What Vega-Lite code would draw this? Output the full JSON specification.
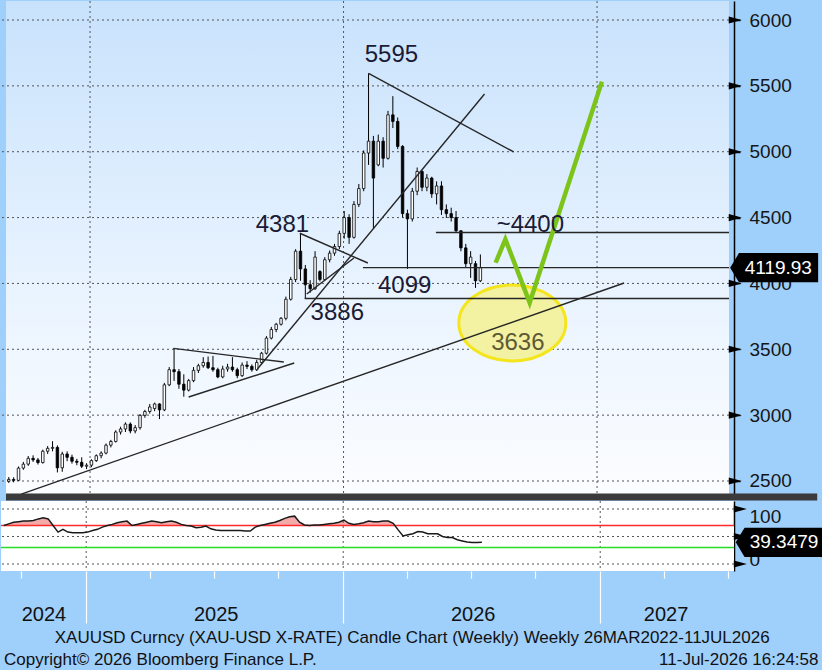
{
  "$schema": "https://vega.github.io/schema/vega-lite/v6.json",
  "background": "#9fcffb",
  "padding": 0,
  "spacing": 4,
  "bounds": "flush",
  "config": {"view": {"stroke": null}, "font": "Liberation Sans"},
  "datasets": {
    "ohlc": [
      {"d": "2024-09-06", "o": 2498, "h": 2530, "l": 2485, "c": 2512, "r": 70},
      {"d": "2024-09-13", "o": 2512, "h": 2528, "l": 2490, "c": 2505, "r": 73},
      {"d": "2024-09-20", "o": 2505, "h": 2610, "l": 2500, "c": 2598, "r": 76},
      {"d": "2024-09-27", "o": 2598, "h": 2645, "l": 2585, "c": 2628, "r": 77},
      {"d": "2024-10-04", "o": 2628, "h": 2690, "l": 2615, "c": 2672, "r": 78},
      {"d": "2024-10-11", "o": 2672, "h": 2695, "l": 2645, "c": 2660, "r": 78},
      {"d": "2024-10-18", "o": 2660, "h": 2675, "l": 2625, "c": 2640, "r": 79},
      {"d": "2024-10-25", "o": 2640, "h": 2738, "l": 2632, "c": 2726, "r": 82},
      {"d": "2024-11-01", "o": 2726, "h": 2765, "l": 2705, "c": 2748, "r": 84},
      {"d": "2024-11-08", "o": 2748, "h": 2802, "l": 2725, "c": 2755, "r": 82},
      {"d": "2024-11-15", "o": 2755, "h": 2770, "l": 2565, "c": 2600, "r": 70},
      {"d": "2024-11-22", "o": 2600, "h": 2722, "l": 2570, "c": 2705, "r": 58},
      {"d": "2024-11-29", "o": 2705, "h": 2725, "l": 2650, "c": 2680, "r": 63},
      {"d": "2024-12-06", "o": 2680, "h": 2700, "l": 2632, "c": 2650, "r": 58},
      {"d": "2024-12-13", "o": 2650, "h": 2668, "l": 2620, "c": 2642, "r": 57},
      {"d": "2024-12-20", "o": 2642, "h": 2680, "l": 2598, "c": 2612, "r": 57},
      {"d": "2024-12-27", "o": 2612, "h": 2635, "l": 2590, "c": 2620, "r": 57},
      {"d": "2025-01-03", "o": 2620, "h": 2665, "l": 2605, "c": 2655, "r": 58},
      {"d": "2025-01-10", "o": 2655, "h": 2702, "l": 2645, "c": 2692, "r": 61},
      {"d": "2025-01-17", "o": 2692, "h": 2725, "l": 2672, "c": 2712, "r": 63},
      {"d": "2025-01-24", "o": 2712, "h": 2785, "l": 2702, "c": 2772, "r": 67},
      {"d": "2025-01-31", "o": 2772, "h": 2812, "l": 2755, "c": 2800, "r": 70},
      {"d": "2025-02-07", "o": 2800, "h": 2885, "l": 2792, "c": 2872, "r": 72},
      {"d": "2025-02-14", "o": 2872, "h": 2912, "l": 2852, "c": 2895, "r": 75},
      {"d": "2025-02-21", "o": 2895, "h": 2945, "l": 2872, "c": 2932, "r": 77},
      {"d": "2025-02-28", "o": 2932, "h": 2945, "l": 2862, "c": 2880, "r": 78},
      {"d": "2025-03-07", "o": 2880, "h": 2925, "l": 2862, "c": 2905, "r": 70},
      {"d": "2025-03-14", "o": 2905, "h": 3008, "l": 2890, "c": 2998, "r": 72},
      {"d": "2025-03-21", "o": 2998, "h": 3040, "l": 2980, "c": 3028, "r": 74},
      {"d": "2025-03-28", "o": 3028, "h": 3085, "l": 3012, "c": 3062, "r": 76},
      {"d": "2025-04-04", "o": 3050, "h": 3095, "l": 3030, "c": 3085, "r": 78},
      {"d": "2025-04-11", "o": 3085, "h": 3090, "l": 2970, "c": 3040, "r": 77},
      {"d": "2025-04-18", "o": 3040, "h": 3245, "l": 3030, "c": 3230, "r": 75},
      {"d": "2025-04-25", "o": 3230, "h": 3365, "l": 3220, "c": 3345, "r": 77},
      {"d": "2025-05-02", "o": 3345, "h": 3507, "l": 3260, "c": 3330, "r": 78},
      {"d": "2025-05-09", "o": 3330, "h": 3350, "l": 3200, "c": 3235, "r": 76},
      {"d": "2025-05-16", "o": 3235, "h": 3310, "l": 3140, "c": 3190, "r": 72},
      {"d": "2025-05-23", "o": 3190, "h": 3275, "l": 3180, "c": 3262, "r": 70},
      {"d": "2025-05-30", "o": 3262, "h": 3365, "l": 3250, "c": 3340, "r": 69},
      {"d": "2025-06-06", "o": 3340, "h": 3390, "l": 3320, "c": 3375, "r": 66},
      {"d": "2025-06-13", "o": 3375, "h": 3440, "l": 3360, "c": 3400, "r": 67},
      {"d": "2025-06-20", "o": 3400, "h": 3445, "l": 3350, "c": 3360, "r": 69},
      {"d": "2025-06-27", "o": 3360, "h": 3450, "l": 3330, "c": 3345, "r": 64},
      {"d": "2025-07-04", "o": 3345, "h": 3360, "l": 3280, "c": 3290, "r": 62},
      {"d": "2025-07-11", "o": 3290, "h": 3375, "l": 3280, "c": 3350, "r": 61},
      {"d": "2025-07-18", "o": 3350, "h": 3390, "l": 3330, "c": 3365, "r": 61},
      {"d": "2025-07-25", "o": 3365, "h": 3440, "l": 3330, "c": 3345, "r": 61},
      {"d": "2025-08-01", "o": 3345, "h": 3360, "l": 3280, "c": 3300, "r": 61},
      {"d": "2025-08-08", "o": 3300, "h": 3400, "l": 3290, "c": 3380, "r": 61},
      {"d": "2025-08-15", "o": 3380, "h": 3410, "l": 3350, "c": 3370, "r": 60},
      {"d": "2025-08-22", "o": 3370, "h": 3385, "l": 3330, "c": 3345, "r": 60},
      {"d": "2025-08-29", "o": 3345, "h": 3420, "l": 3335, "c": 3400, "r": 67},
      {"d": "2025-09-05", "o": 3400, "h": 3480, "l": 3390, "c": 3470, "r": 70},
      {"d": "2025-09-12", "o": 3470, "h": 3600, "l": 3460, "c": 3585, "r": 72},
      {"d": "2025-09-19", "o": 3585, "h": 3670, "l": 3575, "c": 3650, "r": 74},
      {"d": "2025-09-26", "o": 3650, "h": 3700, "l": 3630, "c": 3690, "r": 76},
      {"d": "2025-10-03", "o": 3690, "h": 3745, "l": 3680, "c": 3735, "r": 79},
      {"d": "2025-10-10", "o": 3735, "h": 3900, "l": 3720, "c": 3880, "r": 83},
      {"d": "2025-10-17", "o": 3880, "h": 4050, "l": 3870, "c": 4030, "r": 86},
      {"d": "2025-10-24", "o": 4030, "h": 4260, "l": 4010, "c": 4245, "r": 87},
      {"d": "2025-10-31", "o": 4245, "h": 4381, "l": 4020, "c": 4110, "r": 76},
      {"d": "2025-11-07", "o": 4110, "h": 4140, "l": 3886, "c": 3990, "r": 71},
      {"d": "2025-11-14", "o": 3990, "h": 4025, "l": 3930, "c": 3960, "r": 70},
      {"d": "2025-11-21", "o": 3960, "h": 4245, "l": 3950, "c": 4200, "r": 71},
      {"d": "2025-11-28", "o": 4090, "h": 4100, "l": 4015, "c": 4030, "r": 71},
      {"d": "2025-12-05", "o": 4030, "h": 4200, "l": 4020, "c": 4180, "r": 72},
      {"d": "2025-12-12", "o": 4180, "h": 4250, "l": 4160, "c": 4230, "r": 73},
      {"d": "2025-12-19", "o": 4230, "h": 4300, "l": 4210, "c": 4280, "r": 74},
      {"d": "2025-12-26", "o": 4280, "h": 4400, "l": 4260, "c": 4380, "r": 76},
      {"d": "2026-01-02", "o": 4380, "h": 4550, "l": 4340, "c": 4500, "r": 80},
      {"d": "2026-01-09", "o": 4500, "h": 4525, "l": 4300, "c": 4350, "r": 74},
      {"d": "2026-01-16", "o": 4350, "h": 4625, "l": 4340, "c": 4600, "r": 72},
      {"d": "2026-01-23", "o": 4600, "h": 4755, "l": 4580, "c": 4720, "r": 73},
      {"d": "2026-01-30", "o": 4720, "h": 5010, "l": 4700, "c": 4990, "r": 75},
      {"d": "2026-02-06", "o": 4990, "h": 5595, "l": 4900, "c": 5080, "r": 78},
      {"d": "2026-02-13", "o": 5080, "h": 5120, "l": 4420, "c": 4800, "r": 77},
      {"d": "2026-02-20", "o": 4900, "h": 5130, "l": 4890, "c": 5080, "r": 77},
      {"d": "2026-02-27", "o": 5080, "h": 5110, "l": 4880, "c": 4950, "r": 78},
      {"d": "2026-03-06", "o": 4950, "h": 5310, "l": 4940, "c": 5280, "r": 78},
      {"d": "2026-03-13", "o": 5280, "h": 5422, "l": 5180, "c": 5230, "r": 74},
      {"d": "2026-03-20", "o": 5230, "h": 5260, "l": 5020, "c": 5040, "r": 62},
      {"d": "2026-03-27", "o": 5040, "h": 5050, "l": 4500, "c": 4530, "r": 51},
      {"d": "2026-04-03", "o": 4530, "h": 4560, "l": 4110, "c": 4490, "r": 53},
      {"d": "2026-04-10", "o": 4490, "h": 4725, "l": 4470, "c": 4700, "r": 55},
      {"d": "2026-04-17", "o": 4700, "h": 4880, "l": 4670, "c": 4850, "r": 59},
      {"d": "2026-04-24", "o": 4850, "h": 4860, "l": 4700, "c": 4730, "r": 58},
      {"d": "2026-05-01", "o": 4730, "h": 4830, "l": 4700, "c": 4800, "r": 55},
      {"d": "2026-05-08", "o": 4800, "h": 4810, "l": 4650, "c": 4680, "r": 55},
      {"d": "2026-05-15", "o": 4680, "h": 4775, "l": 4600, "c": 4740, "r": 55},
      {"d": "2026-05-22", "o": 4740, "h": 4776, "l": 4520, "c": 4560, "r": 50},
      {"d": "2026-05-29", "o": 4560, "h": 4600, "l": 4497, "c": 4530, "r": 48},
      {"d": "2026-06-05", "o": 4530, "h": 4575, "l": 4470, "c": 4500, "r": 48},
      {"d": "2026-06-12", "o": 4500, "h": 4550, "l": 4384, "c": 4400, "r": 44},
      {"d": "2026-06-19", "o": 4400, "h": 4400, "l": 4244, "c": 4270, "r": 42},
      {"d": "2026-06-26", "o": 4270, "h": 4300, "l": 4118, "c": 4150, "r": 40},
      {"d": "2026-07-03", "o": 4150, "h": 4245, "l": 4042, "c": 4200, "r": 39},
      {"d": "2026-07-10", "o": 4150, "h": 4170, "l": 3966, "c": 4020, "r": 39},
      {"d": "2026-07-17", "o": 4020, "h": 4220, "l": 4010, "c": 4119.93, "r": 39.3479}
    ],
    "yrs": [{"d": "2025-01-01"}, {"d": "2026-01-01"}, {"d": "2027-01-01"}],
    "pg": [{"p": 2500}, {"p": 3000}, {"p": 3500}, {"p": 4000}, {"p": 4500}, {"p": 5000}, {"p": 5500}, {"p": 6000}],
    "rg": [{"v": 0}, {"v": 50}, {"v": 100}],
    "segs": [
      {"d1": "2024-09-24", "p1": 2401, "d2": "2027-02-09", "p2": 4003},
      {"d1": "2025-08-30", "p1": 3350, "d2": "2026-07-23", "p2": 5438},
      {"d1": "2026-02-06", "p1": 5595, "d2": "2026-09-03", "p2": 4998},
      {"d1": "2025-05-01", "p1": 3507, "d2": "2025-10-07", "p2": 3403},
      {"d1": "2025-05-23", "p1": 3138, "d2": "2025-10-22", "p2": 3396},
      {"d1": "2025-10-30", "p1": 4381, "d2": "2026-02-05", "p2": 4155},
      {"d1": "2025-11-09", "p1": 3920, "d2": "2026-01-16", "p2": 4193},
      {"d1": "2025-11-06", "p1": 3886, "d2": "2027-07-10", "p2": 3886},
      {"d1": "2026-01-29", "p1": 4120, "d2": "2027-07-10", "p2": 4120},
      {"d1": "2026-05-14", "p1": 4387, "d2": "2027-07-10", "p2": 4387}
    ],
    "notes": [
      {"d": "2026-03-11", "p": 5734, "t": "5595"},
      {"d": "2025-10-05", "p": 4444, "t": "4381"},
      {"d": "2025-12-23", "p": 3776, "t": "3886"},
      {"d": "2026-03-30", "p": 3981, "t": "4099"},
      {"d": "2026-09-27", "p": 4444, "t": "~4400"},
      {"d": "2026-09-09", "p": 3548, "t": "3636"}
    ],
    "arrow": [
      {"d": "2026-08-08", "p": 4157, "k": 1},
      {"d": "2026-08-22", "p": 4335, "k": 2},
      {"d": "2026-09-26", "p": 3854, "k": 3},
      {"d": "2027-01-08", "p": 5532, "k": 4}
    ],
    "ring": [{"d": "2026-09-01", "p": 3700}],
    "last": [{"p": 4119.93, "r": 39.3479}]
  },
  "resolve": {"scale": {"x": "independent", "y": "independent"}},
  "vconcat": [
    {
      "width": 733,
      "height": 496,
      "layer": [
        {
          "data": {"values": [{}]},
          "mark": {"type": "rect", "color": {"gradient": "linear", "x1": 0, "y1": 0, "x2": 0, "y2": 1, "stops": [{"offset": 0, "color": "#c8e2fc"}, {"offset": 0.6, "color": "#eaf4ff"}, {"offset": 1, "color": "#fcfdff"}]}},
          "encoding": {
            "x": {"datum": {"year": 2024, "month": 9, "date": 2}, "type": "temporal",
              "scale": {"domain": [{"year": 2024, "month": 9, "date": 2}, {"year": 2027, "month": 7, "date": 10}], "nice": false},
              "axis": null},
            "x2": {"datum": {"year": 2027, "month": 7, "date": 10}},
            "y": {"datum": 6144.3, "type": "quantitative",
              "scale": {"domain": [2378.5, 6144.3], "nice": false, "zero": false},
              "axis": {"orient": "right", "values": [2500, 2750, 3000, 3250, 3500, 3750, 4000, 4250, 4500, 4750, 5000, 5250, 5500, 5750, 6000],
                "labelExpr": "datum.value % 500 == 0 ? datum.value : ''", "grid": false, "tickSize": 6, "tickColor": "#000", "tickWidth": 1.5,
                "domainColor": "#000", "domainWidth": 1.5, "labelPadding": 9, "labelFontSize": 19, "labelColor": "#161616", "title": null}},
            "y2": {"datum": 2378.5}
          }
        },
        {
          "data": {"name": "pg"},
          "mark": {"type": "rule", "color": "#555", "strokeWidth": 1, "strokeDash": [2, 3]},
          "encoding": {"y": {"field": "p", "type": "quantitative", "title": null}}
        },
        {
          "data": {"name": "yrs"},
          "mark": {"type": "rule", "color": "#555", "strokeWidth": 1, "strokeDash": [2, 3]},
          "encoding": {"x": {"field": "d", "type": "temporal", "title": null}}
        },
        {
          "data": {"name": "ring"},
          "mark": {"type": "point", "filled": true, "fill": "#f3f1a2", "stroke": "#f4e51c", "strokeWidth": 3, "opacity": 1,
            "shape": "M 1 0 C 1 0.392 0.552 0.71 0 0.71 C -0.552 0.71 -1 0.392 -1 0 C -1 -0.392 -0.552 -0.71 0 -0.71 C 0.552 -0.71 1 -0.392 1 0 Z",
            "size": 11449},
          "encoding": {"x": {"field": "d", "type": "temporal", "title": null}, "y": {"field": "p", "type": "quantitative", "title": null}}
        },
        {
          "data": {"name": "ohlc"},
          "mark": {"type": "rule", "color": "#000", "strokeWidth": 1},
          "encoding": {"x": {"field": "d", "type": "temporal", "title": null}, "y": {"field": "l", "type": "quantitative", "title": null}, "y2": {"field": "h"}}
        },
        {
          "data": {"name": "ohlc"},
          "mark": {"type": "bar", "width": 2.5, "stroke": "#000", "strokeWidth": 0.8},
          "encoding": {
            "x": {"field": "d", "type": "temporal", "title": null},
            "y": {"field": "o", "type": "quantitative", "title": null},
            "y2": {"field": "c"},
            "color": {"condition": {"test": "datum.c < datum.o", "value": "#000"}, "value": "#fff"}
          }
        },
        {
          "data": {"name": "segs"},
          "mark": {"type": "rule", "color": "#262626", "strokeWidth": 1.4},
          "encoding": {
            "x": {"field": "d1", "type": "temporal", "title": null}, "x2": {"field": "d2"},
            "y": {"field": "p1", "type": "quantitative", "title": null}, "y2": {"field": "p2"}
          }
        },
        {
          "data": {"name": "arrow"},
          "mark": {"type": "line", "color": "#7dc41a", "strokeWidth": 4.5, "strokeJoin": "miter"},
          "encoding": {
            "x": {"field": "d", "type": "temporal", "title": null},
            "y": {"field": "p", "type": "quantitative", "title": null},
            "order": {"field": "k", "type": "quantitative"}
          }
        },
        {
          "data": {"name": "notes"},
          "mark": {"type": "text", "fontSize": 24, "align": "center", "baseline": "middle"},
          "encoding": {
            "x": {"field": "d", "type": "temporal", "title": null},
            "y": {"field": "p", "type": "quantitative", "title": null},
            "text": {"field": "t"},
            "color": {"condition": {"test": "datum.t == '3636'", "value": "#5e5a36"}, "value": "#1b1b36"}
          }
        },
        {
          "data": {"values": [{}]},
          "mark": {"type": "rule", "color": "#3b3b3b", "strokeWidth": 7},
          "encoding": {
            "x": {"datum": {"year": 2024, "month": 9, "date": 2}, "type": "temporal"},
            "x2": {"datum": {"year": 2027, "month": 11, "date": 14}},
            "y": {"datum": 2378.5, "type": "quantitative"}
          }
        },
        {
          "data": {"name": "pg"},
          "mark": {"type": "point", "filled": true, "color": "#000", "opacity": 1, "shape": "M -1 -0.55 L 1 0 L -1 0.55 Z", "size": 169},
          "encoding": {
            "x": {"datum": {"year": 2027, "month": 7, "date": 19}, "type": "temporal"},
            "y": {"field": "p", "type": "quantitative", "title": null}
          }
        },
        {
          "data": {"name": "last"},
          "mark": {"type": "point", "filled": true, "color": "#000", "opacity": 1, "shape": "M -1 0 L -0.8 -0.33 L 1 -0.33 L 1 0.33 L -0.8 0.33 Z", "size": 7744},
          "encoding": {
            "x": {"datum": {"year": 2027, "month": 9, "date": 13}, "type": "temporal"},
            "y": {"field": "p", "type": "quantitative", "title": null}
          }
        },
        {
          "data": {"name": "last"},
          "mark": {"type": "text", "color": "#fff", "fontSize": 19, "align": "center", "baseline": "middle"},
          "encoding": {
            "x": {"datum": {"year": 2027, "month": 9, "date": 19}, "type": "temporal"},
            "y": {"field": "p", "type": "quantitative", "title": null},
            "text": {"field": "p", "type": "quantitative", "format": ".2f"}
          }
        }
      ]
    },
    {
      "width": 733,
      "height": 70,
      "view": {"fill": "#ffffff", "stroke": null},
      "layer": [
        {
          "data": {"name": "ohlc"},
          "mark": {"type": "area", "color": "#f5aaaa", "opacity": 1},
          "encoding": {
            "x": {"field": "d", "type": "temporal", "title": null,
              "scale": {"domain": [{"year": 2024, "month": 9, "date": 2}, {"year": 2027, "month": 7, "date": 10}], "nice": false},
              "axis": {
                "values": [
                  {"year": 2024, "month": 10, "date": 1}, {"year": 2025, "month": 1, "date": 1}, {"year": 2025, "month": 4, "date": 1},
                  {"year": 2025, "month": 7, "date": 1}, {"year": 2025, "month": 10, "date": 1}, {"year": 2026, "month": 1, "date": 1},
                  {"year": 2026, "month": 4, "date": 1}, {"year": 2026, "month": 7, "date": 1}, {"year": 2026, "month": 10, "date": 1},
                  {"year": 2027, "month": 1, "date": 1}, {"year": 2027, "month": 4, "date": 1}, {"year": 2027, "month": 7, "date": 1}
                ],
                "labelExpr": "((month(datum.value) == 6 && year(datum.value) < 2027) || (year(datum.value) == 2024 && month(datum.value) == 9) || (year(datum.value) == 2027 && month(datum.value) == 3)) ? timeFormat(datum.value, '%Y') : ''",
                "labelOffset": {"condition": {"test": "year(datum.value) == 2024", "value": 22}, "value": 2},
                "tickSize": {"condition": {"test": "month(datum.value) == 0", "value": 52}, "value": 7},
                "tickColor": "#ffffff", "tickWidth": 1.2,
                "domain": false, "grid": false, "labelFontSize": 20, "labelColor": "#111", "labelPadding": 26, "labelAngle": 0,
                "labelOverlap": false, "labelFlush": false, "title": null
              }},
            "y": {"field": "r", "type": "quantitative", "title": null,
              "scale": {"domain": [-12.73, 114.55], "nice": false, "zero": false},
              "axis": {"orient": "right", "values": [0, 25, 50, 75, 100],
                "labelExpr": "datum.value == 0 || datum.value == 100 ? datum.value : ''",
                "labelOffset": {"condition": {"test": "datum.value == 100", "value": 7}, "value": -4},
                "grid": false, "tickSize": 6, "tickColor": "#000", "tickWidth": 1.5,
                "domainColor": "#000", "domainWidth": 1.5, "labelPadding": 9, "labelFontSize": 19, "labelColor": "#161616", "title": null}},
            "y2": {"datum": 70}
          }
        },
        {
          "data": {"values": [{}]},
          "mark": {"type": "rect", "color": "#ffffff"},
          "encoding": {
            "x": {"datum": {"year": 2024, "month": 9, "date": 2}, "type": "temporal"},
            "x2": {"datum": {"year": 2027, "month": 7, "date": 10}},
            "y": {"datum": 70, "type": "quantitative"},
            "y2": {"datum": -12.73}
          }
        },
        {
          "data": {"name": "rg"},
          "mark": {"type": "rule", "color": "#555", "strokeWidth": 1, "strokeDash": [2, 3]},
          "encoding": {"y": {"field": "v", "type": "quantitative", "title": null}}
        },
        {
          "data": {"name": "yrs"},
          "mark": {"type": "rule", "color": "#555", "strokeWidth": 1, "strokeDash": [2, 3]},
          "encoding": {"x": {"field": "d", "type": "temporal", "title": null}}
        },
        {
          "data": {"values": [{}]},
          "mark": {"type": "rule", "color": "#ff2b2b", "strokeWidth": 1.6},
          "encoding": {"y": {"datum": 70, "type": "quantitative"}}
        },
        {
          "data": {"values": [{}]},
          "mark": {"type": "rule", "color": "#27dc27", "strokeWidth": 1.6},
          "encoding": {"y": {"datum": 30, "type": "quantitative"}}
        },
        {
          "data": {"name": "ohlc"},
          "mark": {"type": "line", "color": "#1a1a1a", "strokeWidth": 1.5},
          "encoding": {"x": {"field": "d", "type": "temporal", "title": null}, "y": {"field": "r", "type": "quantitative", "title": null}}
        },
        {
          "data": {"name": "rg"},
          "mark": {"type": "point", "filled": true, "color": "#000", "opacity": 1, "shape": "M -1 -0.55 L 1 0 L -1 0.55 Z", "size": 169},
          "encoding": {
            "x": {"datum": {"year": 2027, "month": 7, "date": 19}, "type": "temporal"},
            "y": {"field": "v", "type": "quantitative", "title": null}
          }
        },
        {
          "data": {"name": "last"},
          "mark": {"type": "point", "filled": true, "color": "#000", "opacity": 1, "shape": "M -1 0 L -0.8 -0.33 L 1 -0.33 L 1 0.33 L -0.8 0.33 Z", "size": 7744},
          "encoding": {
            "x": {"datum": {"year": 2027, "month": 9, "date": 13}, "type": "temporal"},
            "y": {"field": "r", "type": "quantitative", "title": null}
          }
        },
        {
          "data": {"name": "last"},
          "mark": {"type": "text", "color": "#fff", "fontSize": 19, "align": "center", "baseline": "middle"},
          "encoding": {
            "x": {"datum": {"year": 2027, "month": 9, "date": 19}, "type": "temporal"},
            "y": {"field": "r", "type": "quantitative", "title": null},
            "text": {"field": "r", "type": "quantitative", "format": ".4f"}
          }
        }
      ]
    },
    {
      "width": 733,
      "height": 96,
      "data": {"values": [{}]},
      "layer": [
        {
          "mark": {"type": "text", "fontSize": 17, "color": "#111", "align": "center", "baseline": "middle"},
          "encoding": {
            "x": {"datum": {"year": 2026, "month": 4, "date": 9}, "type": "temporal",
              "scale": {"domain": [{"year": 2024, "month": 9, "date": 2}, {"year": 2027, "month": 7, "date": 10}], "nice": false}, "axis": null},
            "y": {"datum": 62.5, "type": "quantitative", "scale": {"domain": [0, 96], "reverse": true, "nice": false, "zero": false}, "axis": null},
            "text": {"value": "XAUUSD Curncy (XAU-USD X-RATE) Candle Chart (Weekly) Weekly 26MAR2022-11JUL2026"}
          }
        },
        {
          "mark": {"type": "text", "fontSize": 17, "color": "#111", "align": "left", "baseline": "middle", "dx": 3},
          "encoding": {
            "x": {"datum": {"year": 2024, "month": 9, "date": 2}, "type": "temporal"},
            "y": {"datum": 84.5, "type": "quantitative"},
            "text": {"value": "Copyright© 2026 Bloomberg Finance L.P."}
          }
        },
        {
          "mark": {"type": "text", "fontSize": 17, "color": "#111", "align": "right", "baseline": "middle"},
          "encoding": {
            "x": {"datum": {"year": 2027, "month": 11, "date": 7}, "type": "temporal"},
            "y": {"datum": 84.5, "type": "quantitative"},
            "text": {"value": "11-Jul-2026 16:24:58"}
          }
        }
      ]
    }
  ]
}
